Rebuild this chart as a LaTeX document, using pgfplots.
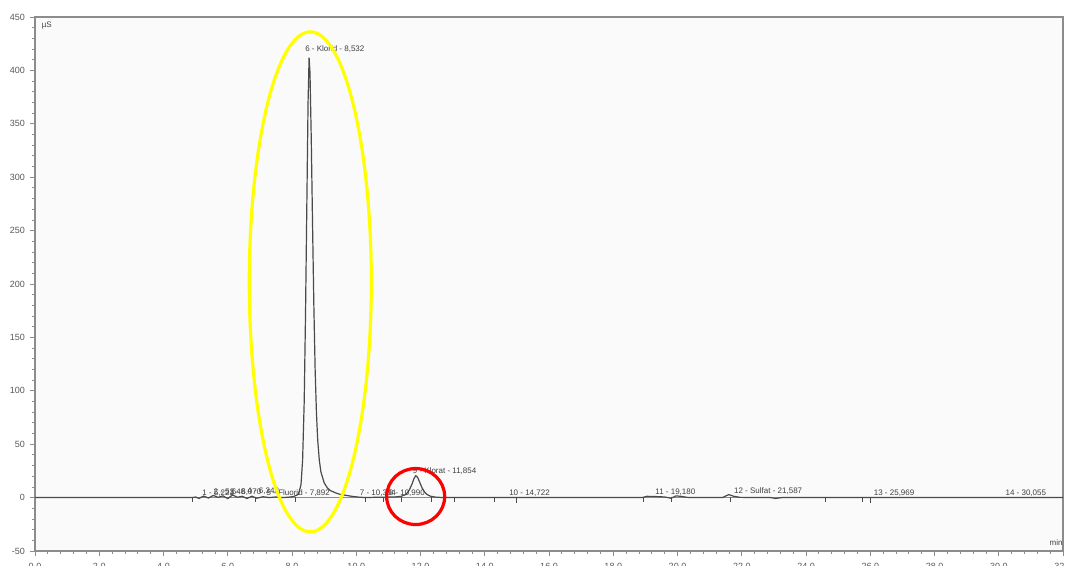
\documentclass[border=0pt]{standalone}
\usepackage{fontspec}
\setmainfont{Liberation Sans}
\usepackage{pgfplots}
\pgfplotsset{compat=1.18}

\definecolor{trace}{HTML}{4A4A4A}
\definecolor{frame}{HTML}{8C8C8C}
\definecolor{hilite}{HTML}{FFFF00}

\begin{document}
\begin{tikzpicture}
\useasboundingbox (0,0) rectangle (532.5pt,283pt);
\clip (0,0) rectangle (532.5pt,283pt);
\fill[white] (0,0) rectangle (532.5pt,283pt);
\begin{axis}[
    at={(17.5pt,7.5pt)}, anchor=south west,
    scale only axis, width=514pt, height=267pt,
    xmin=0, xmax=32, ymin=-50, ymax=450,
    xtick={0,2,...,32}, ytick={-50,0,...,450},
    minor x tick num=4, minor y tick num=4,
    xtick pos=bottom, ytick pos=left,
    tick align=outside,
    major tick length=2.5pt, minor tick length=1.5pt,
    tick style={frame, line width=0.4pt},
    axis line style={frame, line width=1.2pt},
    axis background/.style={fill=black!2},
    /pgf/number format/assume math mode=true,
    xticklabel style={font=\fontsize{4.5}{5}\selectfont, text=black!65,
        /pgf/number format/.cd, fixed, fixed zerofill, precision=1},
    yticklabel style={font=\fontsize{4.5}{5}\selectfont, text=black!65,
        /pgf/number format/.cd, fixed, precision=0},
    xticklabel shift=0pt, yticklabel shift=-1pt,
    clip=false,
]
% zero line
\addplot[frame, line width=0.5pt] coordinates {(0,0) (32,0)};

% chromatogram trace
\addplot[trace, line width=0.6pt] coordinates {
    (0,0) (4.9,0) (5.0,0.6) (5.1,-0.8) (5.25,1.4) (5.4,-0.4) (5.55,2.0)
    (5.7,0.2) (5.85,1.6) (6.0,-0.9) (6.15,2.4) (6.3,0.3) (6.45,1.2)
    (6.6,-0.8) (6.75,1.3) (6.9,-0.6) (7.1,0.8) (7.3,0) (7.5,0.6) (7.7,0)
    (7.9,0.4) (8.05,1.0) (8.2,3) (8.28,12) (8.33,35) (8.38,90) (8.42,170)
    (8.46,270) (8.5,370) (8.532,412) (8.56,398) (8.6,335) (8.64,255)
    (8.68,180) (8.72,120) (8.76,80) (8.8,54) (8.85,35) (8.9,24) (9.0,14)
    (9.1,9) (9.2,6.5) (9.35,4.5) (9.5,3) (9.7,2) (9.9,1) (10.1,0.4)
    (10.3,0) (10.6,0.3) (10.9,0.4) (11.2,0.6) (11.4,1.2) (11.55,3)
    (11.65,7) (11.74,13) (11.8,18) (11.854,20.5) (11.91,19) (11.98,14)
    (12.05,9) (12.12,5.5) (12.2,3) (12.3,1.4) (12.45,0.5) (12.7,0)
    (18.9,0) (19.05,1.2) (19.3,1.0) (19.6,0.6) (19.8,-0.6) (19.95,1.6)
    (20.1,1.2) (20.3,0.2) (20.6,0) (21.4,0) (21.5,1.5) (21.6,2.8)
    (21.75,1.2) (21.95,0.2) (22.9,0) (23.05,-0.8) (23.25,0) (32,0)
};

% integration boundary ticks
\addplot[only marks, mark=|, mark size=1.3pt, trace, line width=0.4pt]
    coordinates {
    (4.9,-1.5) (6.85,-1.5) (8.1,-2) (10.3,-1.5) (10.85,-1.5) (11.4,-2)
    (12.35,-1.5) (13.05,-1.5) (14.3,-1.5) (15.0,-2.5) (18.95,-1.5)
    (19.8,-1.5) (21.65,-2) (24.6,-1.5) (25.75,-1.5) (26.0,-2.5)
};

% peak labels
\begin{scope}[every node/.style={font=\fontsize{4}{4.5}\selectfont,
    text=black!75, inner sep=0pt}]
\node[anchor=base west] at (axis cs:8.4,418) {6 - Klorid - 8,532};
\node[anchor=base west] at (axis cs:11.75,23) {9 - Klorat - 11,854};
\node[anchor=base west] at (axis cs:5.2,2) {1 - 5,221};
\node[anchor=base west] at (axis cs:5.55,3) {2 - 5,648};
\node[anchor=base west] at (axis cs:6.05,2.5) {3 - 6,070};
\node[anchor=base west] at (axis cs:6.6,3.5) {4 - 6,348};
\node[anchor=base west] at (axis cs:7.2,1.5) {5 - Fluorid - 7,892};
\node[anchor=base west] at (axis cs:10.1,2) {7 - 10,384};
\node[anchor=base west] at (axis cs:11.0,1.5) {8 - 10,990};
\node[anchor=base west] at (axis cs:14.75,2) {10 - 14,722};
\node[anchor=base west] at (axis cs:19.3,3) {11 - 19,180};
\node[anchor=base west] at (axis cs:21.75,4) {12 - Sulfat - 21,587};
\node[anchor=base west] at (axis cs:26.1,2) {13 - 25,969};
\node[anchor=base west] at (axis cs:30.2,2) {14 - 30,055};
\node[anchor=north west] at (axis cs:0.2,446) {µS};
\node[anchor=base east] at (axis cs:32,-45) {min};
\end{scope}

% highlight marks
\draw[hilite, line width=1.6pt] (axis cs:8.57,202)
    ellipse [x radius=30.5pt, y radius=125pt];
\draw[red, line width=1.6pt] (axis cs:11.85,1)
    ellipse [x radius=14.5pt, y radius=14pt];
\end{axis}
\end{tikzpicture}
\end{document}
